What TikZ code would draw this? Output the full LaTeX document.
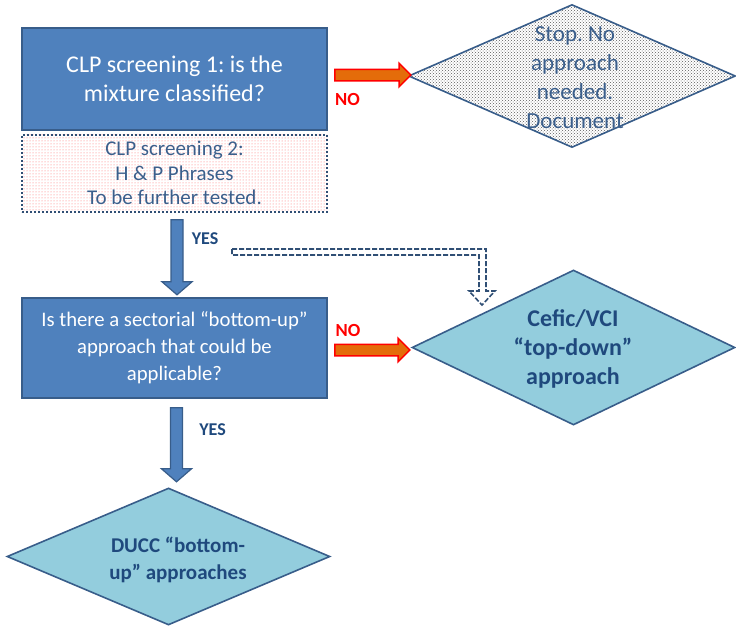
\documentclass[tikz,border=0pt]{standalone}
\usepackage{fontspec}
\setmainfont{Carlito}
\usetikzlibrary{shapes.geometric,shapes.arrows,patterns,positioning}
\definecolor{boxblue}{HTML}{4F81BD}
\definecolor{edgeblue}{HTML}{385D8A}
\definecolor{diacyan}{HTML}{93CDDD}
\definecolor{darkblue}{HTML}{1F497D}
\definecolor{midblue}{HTML}{3B5F8C}
\definecolor{noorange}{HTML}{E46C0A}
\frenchspacing

\begin{document}
\begin{tikzpicture}[x=1pt,y=-1pt,
  box/.style={rectangle,draw=edgeblue,line width=1.6pt,fill=boxblue,text=white,minimum width=305pt,align=center},
  dia/.style={diamond,draw=edgeblue,line width=1.6pt,fill=diacyan,inner sep=0pt},
  noarr/.style={single arrow,draw=red,line width=1.5pt,fill=noorange,inner sep=5pt,single arrow head extend=6pt},
  yesarr/.style={draw=edgeblue,line width=1.2pt,fill=boxblue,line join=miter},
  nolab/.style={text=red,font=\fontsize{18.5}{20}\selectfont\bfseries},
  yeslab/.style={text=darkblue,font=\fontsize{18}{20}\selectfont\bfseries}]
  \useasboundingbox (0,0) rectangle (736,627);
  \node [box,minimum height=102pt,font=\fontsize{24}{29}\selectfont] (q1) at (174.5,79) {CLP screening 1: is the\\mixture classified?};
  \node [rectangle,draw=edgeblue!85!black,dotted,line width=2pt,pattern=dots,pattern color=red!60,
    minimum width=305pt,minimum height=77pt,text=midblue,align=center,
    font=\fontsize{21}{24.5}\selectfont,below=3pt of q1] (q2) {CLP screening 2:\\H \& P Phrases\\To be further tested.};
  \node [diamond,draw=edgeblue,line width=1.6pt,inner sep=0pt,pattern=crosshatch dots,pattern color=gray!70!black,
    minimum width=327pt,minimum height=143pt] (stop) at (572,76) {};
  \node [text=midblue,align=center,font=\fontsize{23}{29}\selectfont] (stoptxt) at (575,78) {Stop. No\\approach\\needed.\\Document};
  \node [noarr,minimum height=76pt] (no1) at (370,75) {};
  \node [nolab] (nolab1) at (347.5,99) {NO};
  \node [box,minimum height=100pt,font=\fontsize{20.7}{27}\selectfont] (q3) at (174.5,348) {Is there a sectorial “bottom-up”\\approach that could be\\applicable?};
  \draw [yesarr] (q2.south) ++(-3.5,7) -- ++(12,0) -- ++(0,62) -- ++(9,0) -- ++(-15,13) -- ++(-15,-13) -- ++(9,0) -- cycle;
  \node [yeslab] (yeslab1) at (205,239) {YES};
  \coordinate (dd) at (232,252);
  \draw [edgeblue!85!black,line width=1.6pt,dash pattern=on 5pt off 2pt] (dd) ++(0,-3) -- ++(254,0) -- ++(0,42) -- ++(9,0) -- ++(-13,14) -- ++(-13,-14) -- ++(10,0) -- ++(0,-36) -- ++(-247,0) -- cycle;
  \node [noarr,minimum height=75pt] (no2) at (369.5,350) {};
  \node [nolab] (nolab2) at (348,330.5) {NO};
  \node [dia,minimum width=323pt,minimum height=155pt] (cefic) at (573.5,347.5) {};
  \node [text=darkblue,align=center,font=\fontsize{24}{29}\selectfont\bfseries] (cefictxt) at (573,349) {Cefic/VCI\\“top-down”\\approach};
  \node [dia,minimum width=323pt,minimum height=137pt] (ducc) at (168.5,556.5) {};
  \draw [yesarr] (q3.south) ++(-4,9) -- ++(12,0) -- ++(0,61) -- ++(9,0) -- ++(-15,13) -- ++(-15,-13) -- ++(9,0) -- cycle;
  \node [yeslab] (yeslab2) at (212.5,430) {YES};
  \node [text=darkblue,align=center,font=\fontsize{21}{27}\selectfont\bfseries] (dutxt) at (178,559.5) {DUCC “bottom-\\up” approaches};
\end{tikzpicture}
\end{document}
